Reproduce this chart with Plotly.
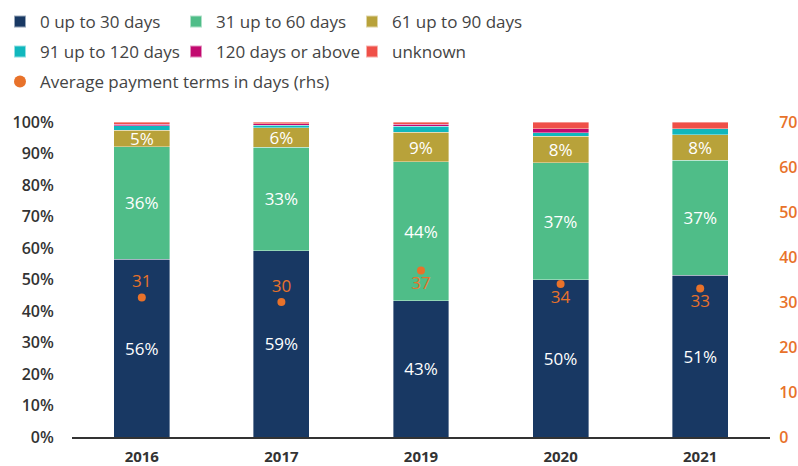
import plotly.graph_objects as go

years = ["2016", "2017", "2019", "2020", "2021"]

share_0_30 = [56.4, 59.2, 43.2, 50.0, 51.3]
share_31_60 = [35.8, 32.8, 44.2, 37.0, 36.6]
share_61_90 = [5.2, 6.1, 9.3, 8.4, 8.1]
share_91_120 = [1.4, 0.8, 2.0, 1.2, 1.9]
share_120_plus = [0.5, 0.5, 0.6, 1.3, 0.0]
share_unknown = [0.7, 0.6, 0.7, 2.1, 2.1]

avg_terms = [31, 30, 37, 34, 33]
avg_label_pos = ["top center", "top center", "bottom center", "bottom center", "bottom center"]

FONT = "Open Sans"
ORANGE = "#e8722a"

# (name, values, colour, show value labels, legend row)
segments = [
    ("0 up to 30 days", share_0_30, "#183863", True, "legend"),
    ("31 up to 60 days", share_31_60, "#4fbd88", True, "legend"),
    ("61 up to 90 days", share_61_90, "#b8a23a", True, "legend"),
    ("91 up to 120 days", share_91_120, "#10b7bd", False, "legend2"),
    ("120 days or above", share_120_plus, "#c2096f", False, "legend2"),
    ("unknown", share_unknown, "#ef5048", False, "legend2"),
]

fig = go.Figure()
for name, values, color, labelled, legend in segments:
    fig.add_trace(
        go.Bar(
            x=years,
            y=values,
            name=name,
            legend=legend,
            marker={"color": color, "line": {"color": "rgba(255,255,255,0.55)", "width": 0.7}},
            text=[f"{round(v)}%" for v in values] if labelled else None,
            textposition="inside" if labelled else "none",
            insidetextanchor="middle",
            constraintext="none",
            textfont={"family": FONT, "size": 17, "color": "white", "weight": 500},
        )
    )

fig.add_trace(
    go.Scatter(
        x=years,
        y=avg_terms,
        name="Average payment terms in days (rhs)",
        legend="legend3",
        yaxis="y2",
        mode="markers+text",
        marker={"color": ORANGE, "size": 8},
        text=[str(v) for v in avg_terms],
        textposition=avg_label_pos,
        textfont={"family": FONT, "size": 17, "color": ORANGE, "weight": 500},
    )
)


def legend_row(y, entrywidth=131):
    return {
        "orientation": "h",
        "xref": "container",
        "yref": "container",
        "x": 0,
        "y": y,
        "xanchor": "left",
        "yanchor": "middle",
        "entrywidth": entrywidth,
        "traceorder": "normal",
        "font": {"family": FONT, "size": 17, "color": "#444444"},
        "itemsizing": "constant",
        "bgcolor": "rgba(0,0,0,0)",
    }


fig.update_layout(
    width=798,
    height=466,
    barmode="stack",
    bargap=0.6,
    plot_bgcolor="white",
    paper_bgcolor="white",
    font={"family": FONT, "color": "#333333"},
    margin={"l": 72, "r": 28, "t": 122, "b": 29, "autoexpand": False},
    uniformtext={"minsize": 17, "mode": "show"},
    legend=legend_row(1 - 22 / 466),
    legend2=legend_row(1 - 52 / 466),
    legend3=legend_row(1 - 82 / 466, entrywidth=None),
    xaxis={
        "showline": True,
        "linecolor": "#333333",
        "linewidth": 1.5,
        "showgrid": False,
        "automargin": False,
        "tickfont": {"family": FONT, "size": 15, "color": "#333333", "weight": "bold"},
        "ticks": "outside",
        "ticklen": 5,
        "tickcolor": "rgba(0,0,0,0)",
    },
    yaxis={
        "range": [0, 100],
        "dtick": 10,
        "ticksuffix": "%",
        "showgrid": False,
        "zeroline": False,
        "showline": False,
        "automargin": False,
        "tickfont": {"family": FONT, "size": 16, "color": "#333333", "weight": 600},
        "ticks": "outside",
        "ticklen": 14,
        "tickcolor": "rgba(0,0,0,0)",
    },
    yaxis2={
        "range": [0, 70],
        "dtick": 10,
        "overlaying": "y",
        "side": "right",
        "showgrid": False,
        "zeroline": False,
        "automargin": False,
        "tickfont": {"family": FONT, "size": 16, "color": ORANGE, "weight": 600},
        "ticks": "outside",
        "ticklen": 5,
        "tickcolor": "rgba(0,0,0,0)",
    },
)

# the page keeps its default 8px body margin otherwise
fig.write_html(
    "out.html",
    config={"displayModeBar": False},
    post_script="document.body.style.margin = '0';",
)
